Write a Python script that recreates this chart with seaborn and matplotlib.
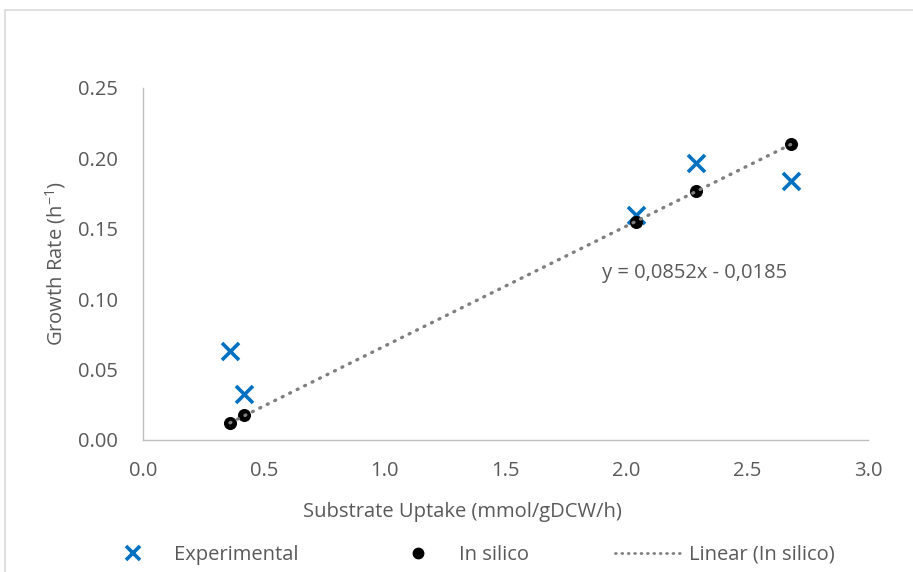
import numpy as np
import pandas as pd
import seaborn as sns
import matplotlib.pyplot as plt
from matplotlib.patches import Rectangle
from matplotlib.lines import Line2D

# Substrate uptake (mmol/gDCW/h) and growth rates (1/h)
uptake = [0.36, 0.42, 2.04, 2.29, 2.68]
growth_experimental = [0.063, 0.033, 0.160, 0.197, 0.184]
growth_in_silico = [0.012, 0.018, 0.155, 0.177, 0.210]

# Linear trend of the in silico predictions
slope = 0.0852
intercept = -0.0185

x_ticks = [0.0, 0.5, 1.0, 1.5, 2.0, 2.5, 3.0]
y_ticks = [0.00, 0.05, 0.10, 0.15, 0.20, 0.25]

sns.set_theme(style="white")
plt.rcParams["font.family"] = ["Open Sans", "DejaVu Sans"]

text_color = "#595959"
axis_color = "#BFBFBF"
fs = 14.5

fig = plt.figure(figsize=(9.13, 5.72), dpi=100)
ax = fig.add_axes([0.1566, 0.2308, 0.7941, 0.6154])

df = pd.DataFrame({"uptake": uptake,
                   "experimental": growth_experimental,
                   "in_silico": growth_in_silico})

sns.scatterplot(data=df, x="uptake", y="experimental", marker="x", s=150,
                color="#0070C0", linewidth=2.6, ax=ax, zorder=3)
sns.scatterplot(data=df, x="uptake", y="in_silico", marker="o", s=75,
                color="black", edgecolor="black", ax=ax, zorder=3)

trend_x = np.array([min(uptake), max(uptake)])
trend = pd.DataFrame({"x": trend_x, "y": slope * trend_x + intercept})
sns.lineplot(data=trend, x="x", y="y", color="#7F7F7F", linewidth=2.4,
             linestyle=(0, (0.3, 2.2)), dash_capstyle="round", ax=ax, zorder=4)

ax.text(2.284, 0.1186, "y = 0,0852x - 0,0185", fontsize=fs, color=text_color,
        ha="center", va="center")

ax.set_xlim(0, 3.0)
ax.set_ylim(0, 0.25)
ax.set_xticks(x_ticks)
ax.set_yticks(y_ticks)
ax.set_xticklabels([f"{v:.1f}" for v in x_ticks])
ax.set_yticklabels([f"{v:.2f}" for v in y_ticks])
ax.tick_params(axis="both", labelsize=fs, labelcolor=text_color, length=0)
ax.tick_params(axis="x", pad=15)
ax.tick_params(axis="y", pad=18)

for side in ["top", "right"]:
    ax.spines[side].set_visible(False)
for side in ["left", "bottom"]:
    ax.spines[side].set_color(axis_color)
    ax.spines[side].set_linewidth(1.0)
ax.grid(False)

ax.set_xlabel("Substrate Uptake (mmol/gDCW/h)", fontsize=fs, color=text_color)
ax.set_ylabel(r"Growth Rate (h$^{\mathregular{-1}}$)", fontsize=fs, color=text_color)
ax.xaxis.set_label_coords(0.44, -0.2045)
ax.xaxis.label.set_va("center")
ax.yaxis.set_label_coords(-0.121, 0.5)
ax.yaxis.label.set_va("center")

handles = [
    Line2D([], [], marker="x", color="#0070C0", linestyle="none", markersize=10, markeredgewidth=2.6),
    Line2D([], [], marker="o", color="black", linestyle="none", markersize=7.5),
    Line2D([], [], color="#7F7F7F", linewidth=2.0, linestyle=(0, (0.3, 2.0)), dash_capstyle="round"),
]
labels = ["Experimental", "In silico", "Linear (In silico)"]
fig.legend(handles, labels, loc="center", bbox_to_anchor=(0.512, 0.03), ncol=3,
           frameon=False, fontsize=fs, labelcolor=text_color, columnspacing=4.25,
           handlelength=3.3, handletextpad=0.4)

fig.patches.append(Rectangle((0.006, -0.1), 1.1, 1.0825, transform=fig.transFigure,
                             fill=False, edgecolor="#D9D9D9", linewidth=1.2))

fig.savefig("out.png", dpi=100, facecolor="white")
